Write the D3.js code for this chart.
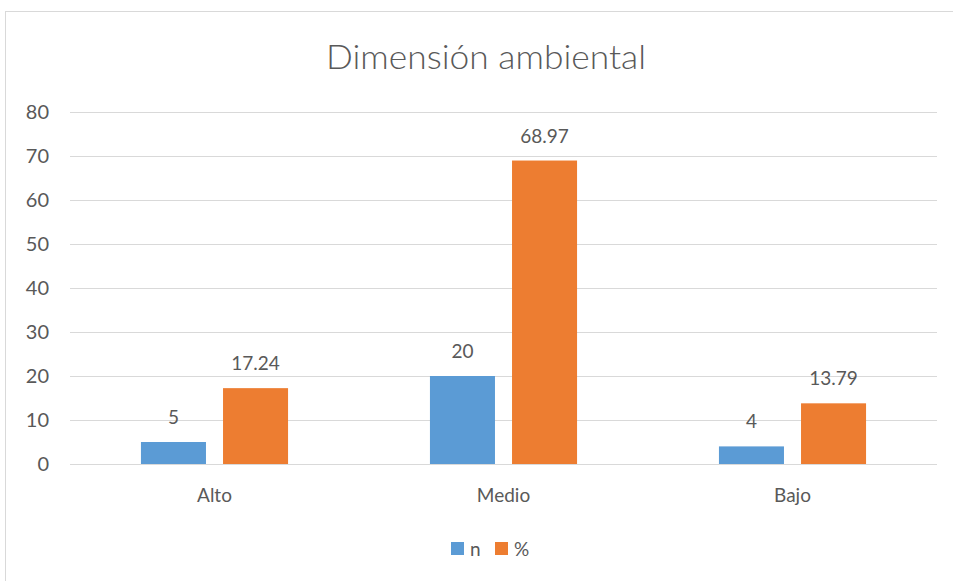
<!DOCTYPE html>
<html><head><meta charset="utf-8">
<script src="https://cdn.jsdelivr.net/npm/d3@7"></script>
<style>body{margin:0;background:#fff}svg{display:block}text{font-family:Lato,"Open Sans",sans-serif;fill:#595959}</style>
</head><body><svg width="953" height="581"></svg>
<script>
const categories = ["Alto","Medio","Bajo"];
const seriesNames = ["n","%"];
const nValues = [5,20,4];
const pctValues = [17.24,68.97,13.79];
const pctLabels = ["17.24","68.97","13.79"];
const yTicks = [0,10,20,30,40,50,60,70,80];
const colors = ["#5B9BD5","#ED7D31"];

const svg = d3.select("svg");
svg.append("rect").attr("x",5.5).attr("y",11.5).attr("width",960).attr("height",600)
  .attr("fill","#fff").attr("stroke","#d9d9d9").attr("stroke-width",1);

const plotL=70,plotR=937,plotT=112,plotB=464;
const x = d3.scaleBand().domain(categories).range([plotL,plotR]).padding(0);
const y = d3.scaleLinear().domain([0,80]).range([plotB,plotT]);

svg.append("text").attr("x",486).attr("y",69).attr("text-anchor","middle")
  .attr("font-size",34).attr("font-weight",300).text("Dimensión ambiental")
  .attr("textLength",320).attr("lengthAdjust","spacingAndGlyphs");

const g = svg.append("g");
g.selectAll("line.grid").data(yTicks).join("line")
  .attr("x1",plotL).attr("x2",plotR).attr("y1",d=>Math.round(y(d))+0.5).attr("y2",d=>Math.round(y(d))+0.5)
  .attr("stroke","#d9d9d9").attr("stroke-width",1);
g.selectAll("text.yt").data(yTicks).join("text")
  .attr("x",49).attr("y",d=>y(d)+7).attr("text-anchor","end").attr("font-size",20).text(d=>d);

const bw = x.bandwidth()*0.225, gap = x.bandwidth()*0.059;
const series = [nValues,pctValues];
const labels = [nValues.map(String),pctLabels];
series.forEach((vals,si)=>{
  const off = si===0 ? -gap/2-bw : gap/2;
  svg.selectAll("rect.s"+si).data(vals).join("rect")
    .attr("x",(d,i)=>x(categories[i])+x.bandwidth()/2+off)
    .attr("y",d=>y(d)).attr("width",bw).attr("height",d=>y(0)-y(d))
    .attr("fill",colors[si]);
  svg.selectAll("text.l"+si).data(vals).join("text")
    .attr("x",(d,i)=>x(categories[i])+x.bandwidth()/2+off+bw/2)
    .attr("y",d=>y(d)-18).attr("text-anchor","middle").attr("font-size",19)
    .text((d,i)=>labels[si][i]);
});
svg.selectAll("text.cat").data(categories).join("text")
  .attr("x",d=>x(d)+x.bandwidth()/2).attr("y",502).attr("text-anchor","middle")
  .attr("font-size",19).text(d=>d);

const leg = [{x:451,tx:470},{x:495,tx:514}];
seriesNames.forEach((s,i)=>{
  svg.append("rect").attr("x",leg[i].x).attr("y",542).attr("width",13).attr("height",13).attr("fill",colors[i]);
  svg.append("text").attr("x",leg[i].tx).attr("y",556).attr("font-size",19).text(s);
});
</script></body></html>
